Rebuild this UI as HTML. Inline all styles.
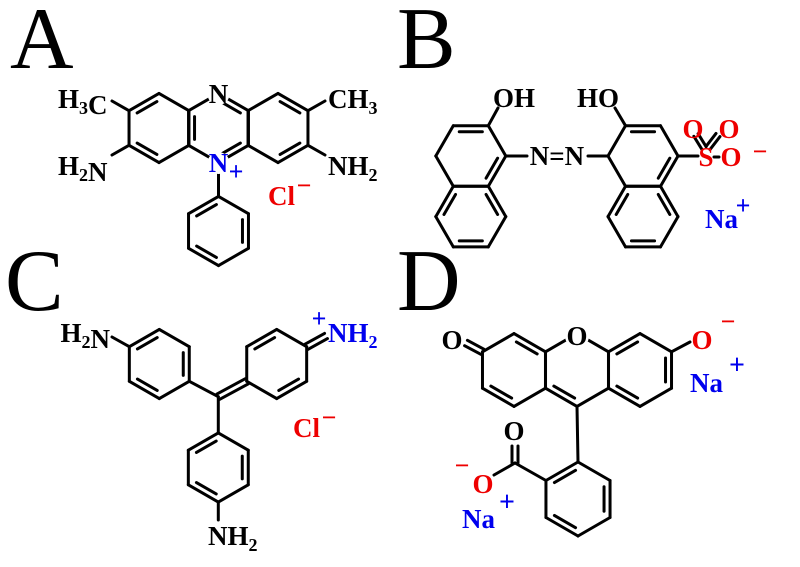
<!DOCTYPE html>
<html><head><meta charset="utf-8"><style>
html,body{margin:0;padding:0;background:#fff;}
svg{display:block;}
text{font-family:"Liberation Serif",serif;}
.lb{font-weight:bold;font-size:27px;}
.big{font-size:88px;}
</style></head><body>
<svg id="s" width="800" height="567" viewBox="0 0 800 567" xmlns="http://www.w3.org/2000/svg">
<g id="bonds" stroke="#000" stroke-width="3" stroke-linecap="round" fill="none"></g>
<g id="labels"></g>
</svg>
<script>
var NS="http://www.w3.org/2000/svg";
var B=document.getElementById("bonds"),L=document.getElementById("labels");
function ln(a,b){var e=document.createElementNS(NS,"line");e.setAttribute("x1",a[0]);e.setAttribute("y1",a[1]);e.setAttribute("x2",b[0]);e.setAttribute("y2",b[1]);B.appendChild(e);}
function hex(cx,cy,r,pointy){var v=[];for(var i=0;i<6;i++){var a=(pointy?-90:0)+60*i;a=a*Math.PI/180;v.push([cx+r*Math.cos(a),cy+r*Math.sin(a)]);}return v;}
function inner(a,b,c){var mx=(a[0]+b[0])/2,my=(a[1]+b[1])/2;var dx=c[0]-mx,dy=c[1]-my,d=Math.hypot(dx,dy);var ox=dx/d*6,oy=dy/d*6;var s=0.17;
ln([a[0]+(b[0]-a[0])*s+ox,a[1]+(b[1]-a[1])*s+oy],[b[0]+(a[0]-b[0])*s+ox,b[1]+(a[1]-b[1])*s+oy]);}
function ring(cx,cy,r,pointy,dbl){var v=hex(cx,cy,r,pointy);for(var i=0;i<6;i++)ln(v[i],v[(i+1)%6]);(dbl||[]).forEach(function(i){inner(v[i],v[(i+1)%6],[cx,cy]);});return v;}
function dbl(a,b,o){var dx=b[0]-a[0],dy=b[1]-a[1],d=Math.hypot(dx,dy);var nx=-dy/d*o,ny=dx/d*o;ln([a[0]+nx,a[1]+ny],[b[0]+nx,b[1]+ny]);ln([a[0]-nx,a[1]-ny],[b[0]-nx,b[1]-ny]);}
function lab(html,x,y,color,anchor,bg){
 if(bg){var c=document.createElementNS(NS,"circle");c.setAttribute("cx",bg[0]);c.setAttribute("cy",bg[1]);c.setAttribute("r",bg[2]);c.setAttribute("fill","#fff");L.appendChild(c);}
 var g=document.createElementNS(NS,"g");g.innerHTML='<text class="lb" x="'+x+'" y="'+y+'" fill="'+(color||"#000")+'" text-anchor="'+(anchor||"start")+'">'+html+'</text>';L.appendChild(g);}
function sub(t){return '<tspan dy="6" font-size="18">'+t+'</tspan><tspan dy="-6"></tspan>';}
function sup(t,x,y,color,fs){lab('<tspan font-size="'+(fs||24)+'">'+t+'</tspan>',x,y,color,"middle");}

// ---------- A ----------
var r=34.6;
var a1=ring(159,128,r,true,[5,3]);
var a2=ring(218.5,128,r,true,[0,2,4]);
var a3=ring(278,128,r,true,[0,2]);
ln(a1[5],[112,101]);ln(a1[4],[112,155]);ln(a3[1],[325,101]);ln(a3[2],[325,155]);
var ap=ring(218.5,231,r,true,[1,3,5]);
ln([218.5,163],ap[0]);
lab("N",218.5,103,"#000","middle",[218.5,94,11]);
lab("N",218.5,172,"#0000ee","middle",[218.5,163,11]);
sup("+",236,180,"#0000ee",26);
lab("H"+sub("3")+"C",58,108);
lab("H"+sub("2")+"N",58,175);
lab("CH"+sub("3"),328,108);
lab("NH"+sub("2"),328,175);
lab("Cl",268,205,"#ee0000");sup("−",304,194,"#ee0000",26);

// ---------- B ----------
var rb=35;
var b1=ring(470.8,156,rb,false,[4,0]);
var b2=ring(470.8,216.6,rb,false,[1,3,5]);
var b3=ring(643,156,rb,false,[4,0]);
var b4=ring(643,216.6,rb,false,[1,3,5]);
ln(b1[5],[498,108]);ln(b1[0],[527,156]);ln([588,156],b3[3]);
ln(b3[4],[615,108]);ln(b3[0],[698,156]);
dbl([704,148],[696,135],2.5);dbl([708,148],[718,135],2.5);ln([714,157],[719,157]);
lab("OH",493,107);lab("HO",619,107,"#000","end");
lab("N=N",557,165,"#000","middle");
lab("S",706,166,"#ee0000","middle");
lab("O",693,138,"#ee0000","middle");lab("O",729,138,"#ee0000","middle");
lab("O",731,166,"#ee0000","middle");sup("−",760,160,"#ee0000",26);
lab("Na",705,228,"#0000ee");sup("+",743,214,"#0000ee",26);

// ---------- C ----------
var c1=ring(159.3,364,r,true,[5,1,3]);
var c2=ring(276.7,364,r,true,[5,2]);
var c3=ring(218.3,467.5,r,true,[5,1,3]);
var cc=[218.3,396.7];
ln(cc,c1[2]);dbl(cc,c2[4],3);ln(cc,c3[0]);
ln(c1[5],[112,337]);
dbl(c2[1],[326,336],3);
ln(c3[3],[218.3,520]);
lab("H"+sub("2")+"N",110,342,"#000","end");
lab("NH"+sub("2"),328,342,"#0000ee");sup("+",319,327,"#0000ee",26);
lab("NH"+sub("2"),208,545);
lab("Cl",293,437,"#ee0000");sup("−",329,426,"#ee0000",26);

// ---------- D ----------
var rd=36.4;
var d1=ring(514,370,rd,true,[0,3]);
var d2=ring(577,370,rd,true,[3]);
var d3=ring(640,370,rd,true,[5,1,3]);
dbl(d1[5],[466,343],3);
ln(d3[1],[690,342]);
var d4=ring(578,499,37,true,[5,1,3]);
ln(d2[3],d4[0]);
var cx=[515,463];
ln(d4[5],cx);dbl(cx,[515,446],3);ln(cx,[494,475]);
lab("O",577,345,"#000","middle",[577,336,12]);
lab("O",452,349,"#000","middle");
lab("O",702,349,"#ee0000","middle");sup("−",728,330,"#ee0000",26);
lab("Na",690,392,"#0000ee");sup("+",737,374,"#0000ee",28);
lab("O",514,440,"#000","middle");
lab("O",483,493,"#ee0000","middle");sup("−",462,474,"#ee0000",26);
lab("Na",462,528,"#0000ee");sup("+",507,511,"#0000ee",28);

// big letters
L.innerHTML+='<text class="big" x="10" y="68">A</text><text class="big" x="397" y="68">B</text><text class="big" x="5" y="310">C</text><text class="big" x="397" y="310">D</text>';
</script>
</body></html>
